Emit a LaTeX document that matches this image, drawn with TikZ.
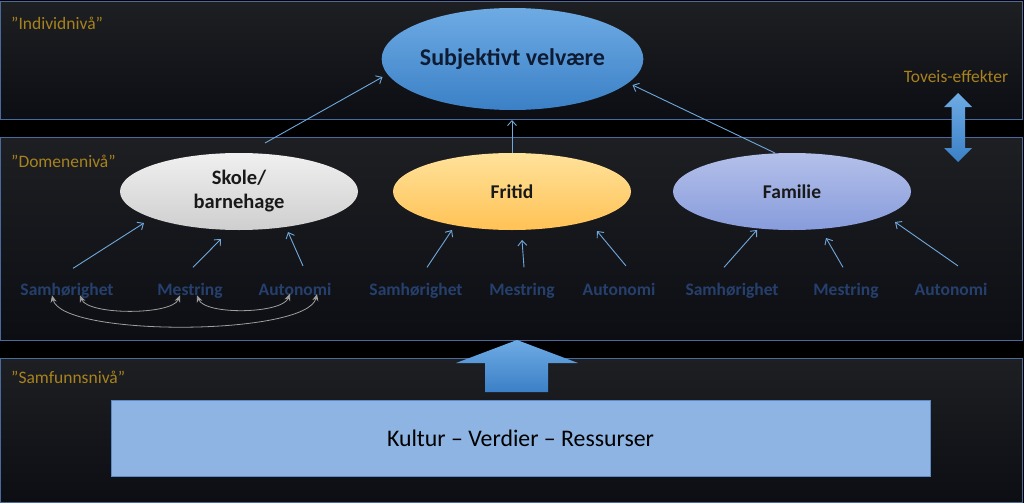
\documentclass[tikz,border=0pt]{standalone}
\usepackage{fontspec}
\setmainfont{Carlito}
\usetikzlibrary{shapes.geometric,arrows.meta,calc}
\definecolor{panelborder}{HTML}{4A6A9E}
\definecolor{paneltop}{HTML}{1E1F23}
\definecolor{panelbot}{HTML}{0C0E13}
\definecolor{lvl}{HTML}{A8821C}
\definecolor{conn}{HTML}{6FA8DC}
\definecolor{lab}{HTML}{26406E}
\definecolor{subjtop}{HTML}{6EABE4}
\definecolor{subjbot}{HTML}{3B80C6}
\definecolor{navytext}{HTML}{0E1B33}
\definecolor{kultur}{HTML}{8DB4E2}
\definecolor{kulturdraw}{HTML}{5B8AC8}
\begin{document}
\begin{tikzpicture}[x=1pt,y=-1pt,
  panel/.style={draw=panelborder,line width=0.8pt,top color=paneltop,bottom color=panelbot},
  lvltext/.style={anchor=west,text=lvl,font=\fontsize{17.5}{20}\selectfont,inner sep=0pt},
  ell/.style={ellipse,draw=none,inner sep=0pt,minimum width=238pt,minimum height=77pt,align=center},
  labtext/.style={text=lab,font=\bfseries\fontsize{17.5}{20}\selectfont,inner sep=0pt,anchor=base},
  connarrow/.style={draw=conn,line width=0.9pt,-{Straight Barb[length=5pt,width=9pt]}},
  grayarc/.style={draw=gray!75,line width=0.8pt,{Stealth[length=7pt,width=6pt]}-{Stealth[length=7pt,width=6pt]}}]
\useasboundingbox (0,0) rectangle (1024,503);
\fill[black] (0,0) rectangle (1024,503);
% panels
\path[panel] (0.5,1.5) rectangle (1022.5,119);
\path[panel] (0.5,137) rectangle (1022.5,340);
\path[panel] (0.5,358) rectangle (1022.5,502);
% level labels
\node[lvltext] (lind) at (11,23) {”Individnivå”};
\node[lvltext] (ldom) at (11,161) {”Domenenivå”};
\node[lvltext] (lsam) at (11,377) {”Samfunnsnivå”};
\node[lvltext,anchor=center] (ltov) at (956,76) {Toveis-effekter};
% ellipses
\node[ellipse,inner sep=0pt,minimum width=255pt,minimum height=102pt,top color=subjtop,bottom color=subjbot,
      text=navytext,font=\bfseries\fontsize{24}{28}\selectfont] (subj) at (512.5,59) {Subjektivt velvære};
\node[ell,top color=gray!12,bottom color=gray!38,text=black!90,font=\bfseries\fontsize{20.5}{24}\selectfont] (skole) at (239,191.5) {Skole/\\barnehage};
\node[ell,top color={rgb,255:red,255;green,226;blue,155},bottom color={rgb,255:red,255;green,194;blue,85},text=black!90,font=\bfseries\fontsize{19.5}{23}\selectfont] (fritid) at (512,191.5) {Fritid};
\node[ell,top color={rgb,255:red,180;green,192;blue,234},bottom color={rgb,255:red,136;green,156;blue,220},text=black!90,font=\bfseries\fontsize{19.5}{23}\selectfont] (familie) at (792,191.5) {Familie};
% labels (baseline-aligned)
\node[labtext] (sam1) at (67,295) {Samhørighet};
\node[labtext] (mes1) at (190,295) {Mestring};
\node[labtext] (aut1) at (295,295) {Autonomi};
\node[labtext] (sam2) at (416,295) {Samhørighet};
\node[labtext] (mes2) at (522,295) {Mestring};
\node[labtext] (aut2) at (619,295) {Autonomi};
\node[labtext] (sam3) at (732,295) {Samhørighet};
\node[labtext] (mes3) at (846,295) {Mestring};
\node[labtext] (aut3) at (951,295) {Autonomi};
% connectors to domain ellipses
\draw[connarrow] ($(sam1)+(6,-22)$) -- ($(skole)+(-95,31.5)$);
\draw[connarrow] ($(mes1)+(3,-23)$) -- ($(skole)+(-18,47.5)$);
\draw[connarrow] ($(aut1)+(8,-23)$) -- ($(skole)+(49,40.5)$);
\draw[connarrow] ($(sam2)+(11,-23)$) -- ($(fritid)+(-60,38.5)$);
\draw[connarrow] ($(mes2)+(2,-23)$) -- ($(fritid)+(10,48.5)$);
\draw[connarrow] ($(aut2)+(7,-23)$) -- ($(fritid)+(85,39.5)$);
\draw[connarrow] ($(sam3)+(-8,-23)$) -- ($(familie)+(-35,38.5)$);
\draw[connarrow] ($(mes3)+(-3,-23)$) -- ($(familie)+(34,46.5)$);
\draw[connarrow] ($(aut3)+(7,-23)$) -- ($(familie)+(103,30.5)$);
% connectors to subjective well-being
\draw[connarrow] ($(skole)+(26,-48.5)$) -- ($(subj)+(-130,18)$);
\draw[connarrow] (fritid.north) -- ($(subj)+(-0.5,61)$);
\draw[connarrow] ($(familie)+(-17,-38.5)$) -- ($(subj)+(120,26)$);
% gray arcs
\draw[grayarc] ($(sam1)+(13,5)$) .. controls +(8,20) and +(-8,20) .. ($(mes1)+(-10,5)$);
\draw[grayarc] ($(mes1)+(7,5)$) .. controls +(8,20) and +(-8,20) .. ($(aut1)+(-5,5)$);
\draw[grayarc] ($(sam1)+(-15,5)$) .. controls +(10,42) and +(-10,42) .. ($(aut1)+(22,5)$);
% two-way arrow
\path[top color=subjtop,bottom color=subjbot] (958,93) -- (972,107) -- (965,107) -- (965,148) -- (972,148) -- (958,162)
  -- (944,148) -- (951.5,148) -- (951.5,107) -- (944,107) -- cycle;
% big up arrow
\path[top color=subjtop,bottom color=subjbot] (517,340) -- (578,363) -- (548,363) -- (548,392) -- (485,392) -- (485,363) -- (456,363) -- cycle;
% Kultur box
\node[draw=kulturdraw,line width=0.6pt,fill=kultur,minimum width=819pt,minimum height=76pt,inner sep=0pt,
      font=\fontsize{23.8}{28}\selectfont,text=black] (kult) at (520.5,438.5) {Kultur – Verdier – Ressurser};
\end{tikzpicture}
\end{document}
